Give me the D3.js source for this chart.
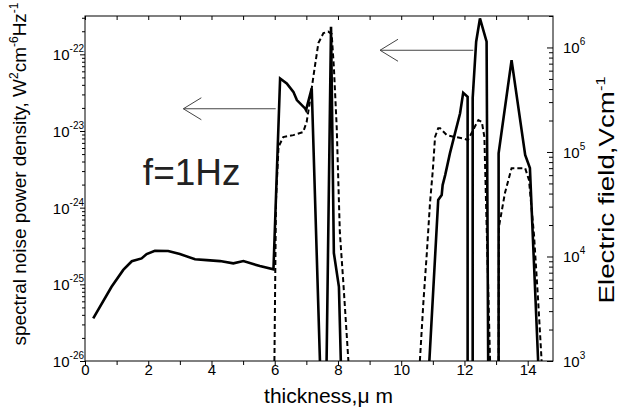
<!DOCTYPE html>
<html>
<head>
<meta charset="utf-8">
<script src="https://cdn.jsdelivr.net/npm/d3@7"></script>
<style>
body { margin: 0; background: #fff; }
svg text { font-family: "Liberation Sans", Arial, sans-serif; fill: #000; }
</style>
</head>
<body>
<script>
// solid curve: spectral noise power density (left axis), null = break in the line
var solidThickness = [0.26, 0.84, 1.21, 1.48, 1.79, 1.95, 2.21, 2.63, 3.00, 3.48, 3.85, 4.27, 4.69, 5.01, 5.53, 5.96,
  6.17, 6.38, 6.59, 6.70, 6.96, 6.99, 7.17, 7.43, null,
  7.64, 7.78, 7.87, 8.03, 8.09, null,
  10.89, 11.17, 11.28, 11.31, 11.39, 11.54, 11.70, 11.86, 11.96, 12.10, 12.10, null,
  12.26, 12.26, 12.37, 12.49, 12.70, 12.75, null,
  13.08, 13.08, 13.49, 13.92, 14.07, 14.33];
var solidNoise = [3.6e-26, 9.3e-26, 1.54e-25, 2.0e-25, 2.18e-25, 2.48e-25, 2.74e-25, 2.72e-25, 2.48e-25, 2.12e-25, 2.07e-25, 2.01e-25, 1.88e-25, 2.01e-25, 1.73e-25, 1.57e-25,
  4.85e-23, 4.18e-23, 3.24e-23, 2.53e-23, 1.97e-23, 1.87e-23, 3.59e-23, 1e-26, null,
  1e-26, 2.29e-22, 2.56e-25, 9.3e-26, 1e-26, null,
  1e-26, 1.26e-24, 1.46e-24, 1.97e-24, 2.66e-24, 5.1e-24, 9.3e-24, 1.69e-23, 3.15e-23, 2.79e-23, 1e-26, null,
  1e-26, 2.69e-23, 1.46e-22, 2.94e-22, 1.46e-22, 1e-26, null,
  1e-26, 5.1e-24, 8.4e-23, 4.86e-24, 3.28e-24, 1e-26];

// dashed curve: electric field (right axis)
var dashThickness = [5.99, 6.04, 6.12, 6.27, 6.59, 6.90, 7.01, 7.12, 7.22, 7.38, 7.54, 7.69, 7.80, 7.87, 7.96, 8.06, 8.17, 8.33, null,
  10.59, 10.70, 10.81, 10.91, 11.00, 11.07, 11.17, 11.23, 11.44, 11.65, 11.96, 12.11, 12.33, 12.44, 12.55, 12.63, 12.81, null,
  13.08, 13.09, 13.28, 13.49, 13.92, 14.04, 14.20, 14.33, 14.44];
var dashField = [1e3, 3.47e4, 1.12e5, 1.39e5, 1.45e5, 1.55e5, 1.94e5, 3.15e5, 5.22e5, 1.10e6, 1.37e6, 1.42e6, 1.35e6, 6.5e5, 1.73e5, 1.68e4, 5.6e3, 1e3, null,
  1e3, 3.6e3, 1.08e4, 3.25e4, 6.7e4, 1.39e5, 1.69e5, 1.69e5, 1.45e5, 1.40e5, 1.35e5, 1.30e5, 1.75e5, 2.02e5, 1.94e5, 1.39e5, 1e3, null,
  1e3, 1.92e4, 4.05e4, 7.0e4, 7.0e4, 5.4e4, 1.6e4, 3.8e3, 1e3];

var xTicks = [0, 1, 2, 3, 4, 5, 6, 7, 8, 9, 10, 11, 12, 13, 14];
var leftExponents = [-26, -25, -24, -23, -22];
var rightExponents = [3, 4, 5, 6];

// arrows: from x1 to x2 (thickness) at noise level y, head at x1
var arrows = [
  {x1: 3.11, x2: 6.03, y: 1.95e-23},
  {x1: 9.33, x2: 12.28, y: 1.13e-22}
];

var margin = {top: 16, right: 71, bottom: 55, left: 85},
    width = 624 - margin.left - margin.right,
    height = 416 - margin.top - margin.bottom;

var svg = d3.select('body').append('svg')
    .attr('width', 624)
    .attr('height', 416);

var g = svg.append('g')
    .attr('transform', 'translate(' + margin.left + ',' + margin.top + ')');

var x = d3.scaleLinear().domain([0, 14.8]).range([0, width]);
var yL = d3.scaleLog().domain([1e-26, Math.pow(10, -21.5)]).range([height, 0]);
var yR = d3.scaleLog().domain([1e3, 2e6]).range([height, 0]);

function minors(exps, scale) {
  var out = [];
  exps.forEach(function(e) {
    for (var k = 2; k <= 9; k++) {
      var v = k * Math.pow(10, e);
      if (v <= scale.domain()[1]) out.push(v);
    }
  });
  return out;
}
var leftMajor = leftExponents.map(function(e) { return Math.pow(10, e); });
var rightMajor = rightExponents.map(function(e) { return Math.pow(10, e); });

// frame
g.append('rect')
    .attr('width', width).attr('height', height)
    .attr('fill', 'none').attr('stroke', '#000').attr('stroke-width', 1);

function styleAxis(sel) {
  sel.attr('font-family', null);
  sel.select('.domain').remove();
  sel.selectAll('line').attr('stroke', '#000');
}

// bottom axis
g.append('g').attr('transform', 'translate(0,' + height + ')')
    .call(d3.axisBottom(x).tickValues(xTicks.filter(function(d) { return d % 2 === 0; }))
      .tickSize(5).tickFormat(d3.format('d')))
    .call(styleAxis)
    .call(function(s) { s.selectAll('text').attr('font-size', 15).attr('y', 3).attr('fill', '#000'); });
g.append('g').attr('transform', 'translate(0,' + height + ')')
    .call(d3.axisBottom(x).tickValues(xTicks.filter(function(d) { return d % 2 === 1; }))
      .tickSize(4).tickFormat(''))
    .call(styleAxis);

// top axis, ticks inward
g.append('g')
    .call(d3.axisBottom(x).tickValues(xTicks).tickSize(4).tickFormat(''))
    .call(styleAxis);

// left axis, ticks outward
g.append('g')
    .call(d3.axisLeft(yL).tickValues(leftMajor).tickSize(5).tickFormat(''))
    .call(styleAxis);
g.append('g')
    .call(d3.axisLeft(yL).tickValues(minors(leftExponents, yL)).tickSize(3).tickFormat(''))
    .call(styleAxis);

// right axis, ticks inward
g.append('g').attr('transform', 'translate(' + width + ',0)')
    .call(d3.axisLeft(yR).tickValues(rightMajor).tickSize(6).tickFormat(''))
    .call(styleAxis);
g.append('g').attr('transform', 'translate(' + width + ',0)')
    .call(d3.axisLeft(yR).tickValues(minors(rightExponents, yR)).tickSize(4).tickFormat(''))
    .call(styleAxis);

// power-of-ten labels
var lab = g.selectAll('.llab').data(leftExponents).enter().append('text')
    .attr('class', 'llab')
    .attr('x', -1)
    .attr('y', function(d) { return yL(Math.pow(10, d)) + 6; })
    .attr('text-anchor', 'end');
lab.append('tspan').attr('font-size', 15).text('10');
lab.append('tspan').attr('font-size', 10).attr('dy', -8).text(function(d) { return d; });

var rlab = g.selectAll('.rlab').data(rightExponents).enter().append('text')
    .attr('class', 'rlab')
    .attr('x', width + 10)
    .attr('y', function(d) { return yR(Math.pow(10, d)) + 6; });
rlab.append('tspan').attr('font-size', 15).text('10');
rlab.append('tspan').attr('font-size', 10).attr('dy', -8).text(function(d) { return d; });

// curves
g.append('clipPath').attr('id', 'clip').append('rect').attr('width', width).attr('height', height + 1);

var solid = solidThickness.map(function(t, i) { return {t: t, v: solidNoise[i]}; });
var dashed = dashThickness.map(function(t, i) { return {t: t, v: dashField[i]}; });

var lineL = d3.line()
    .defined(function(d) { return d.v != null; })
    .x(function(d) { return x(d.t); })
    .y(function(d) { return yL(d.v); });
var lineR = d3.line()
    .defined(function(d) { return d.v != null; })
    .x(function(d) { return x(d.t); })
    .y(function(d) { return yR(d.v); });

var plot = g.append('g').attr('clip-path', 'url(#clip)');
plot.append('path').datum(dashed)
    .attr('d', lineR)
    .attr('fill', 'none').attr('stroke', '#000')
    .attr('stroke-width', 2).attr('stroke-dasharray', '5,3');
plot.append('path').datum(solid)
    .attr('d', lineL)
    .attr('fill', 'none').attr('stroke', '#000')
    .attr('stroke-width', 2.6).attr('stroke-linejoin', 'miter');

// arrows
arrows.forEach(function(a) {
  var x1 = x(a.x1), x2 = x(a.x2), y = yL(a.y);
  g.append('path')
      .attr('d', 'M' + x2 + ',' + y + 'H' + x1 + 'M' + (x1 + 18) + ',' + (y - 11) + 'L' + x1 + ',' + y + 'L' + (x1 + 18) + ',' + (y + 11))
      .attr('fill', 'none').attr('stroke', '#444').attr('stroke-width', 1);
});

// annotation
g.append('text')
    .attr('x', x(1.83)).attr('y', yL(1.95e-24))
    .attr('font-size', 37)
    .style('fill', '#222')
    .text('f=1Hz');

// axis titles
svg.append('text')
    .attr('x', margin.left + x(7.7)).attr('y', 403)
    .attr('text-anchor', 'middle').attr('font-size', 21)
    .text('thickness,\u03bc m');

var lt = svg.append('text')
    .attr('transform', 'translate(26,174) rotate(-90)')
    .attr('text-anchor', 'middle').attr('font-size', 19)
    .attr('textLength', 343).attr('lengthAdjust', 'spacingAndGlyphs');
lt.append('tspan').text('spectral noise power density, W');
lt.append('tspan').attr('font-size', 12).attr('dy', -8).text('2');
lt.append('tspan').attr('dy', 8).text('cm');
lt.append('tspan').attr('font-size', 12).attr('dy', -8).text('-6');
lt.append('tspan').attr('dy', 8).text('Hz');
lt.append('tspan').attr('font-size', 12).attr('dy', -8).text('-1');

var rt = svg.append('text')
    .attr('transform', 'translate(614,190) rotate(-90)')
    .attr('text-anchor', 'middle').attr('font-size', 22)
    .attr('textLength', 227).attr('lengthAdjust', 'spacingAndGlyphs');
rt.append('tspan').text('Electric field,Vcm');
rt.append('tspan').attr('font-size', 13).attr('dy', -9).text('-1');
</script>
</body>
</html>
